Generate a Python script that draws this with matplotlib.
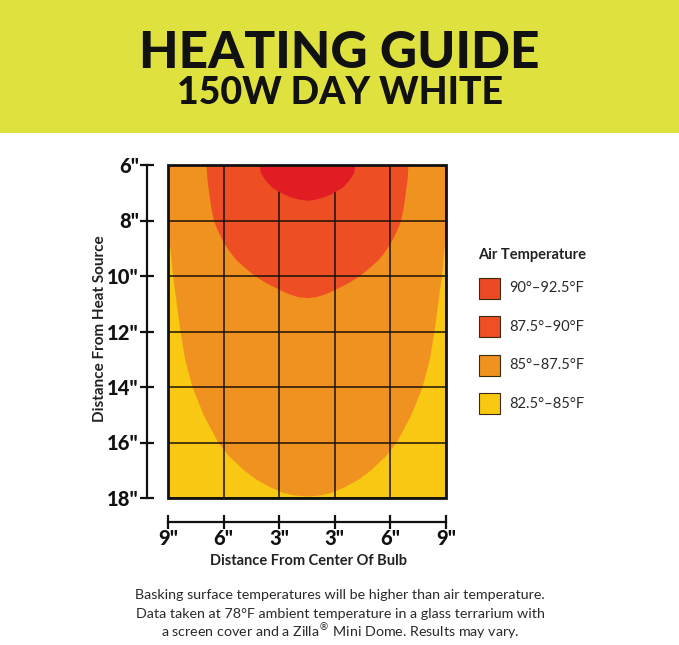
import matplotlib
matplotlib.use("Agg")
import matplotlib.pyplot as plt
from matplotlib.patches import Rectangle

# ---------------- data ----------------
title_line1 = "HEATING GUIDE"
title_line2 = "150W DAY WHITE"
y_ticks = [6, 8, 10, 12, 14, 16, 18]
y_tick_labels = ['6"', '8"', '10"', '12"', '14"', '16"', '18"']
x_ticks = [-7.5, -4.5, -1.5, 1.5, 4.5, 7.5]
x_tick_labels = ['9"', '6"', '3"', '3"', '6"', '9"']

# boundary of each zone: depth (in) and half-width from bulb centre
zone_hot_depth = [6, 6.3, 6.55, 6.8, 7.0, 7.15, 7.23, 7.27]
zone_hot_half = [2.6, 2.5, 2.25, 1.9, 1.4, 0.9, 0.45, 0]
zone_warm_depth = [6, 6.5, 7, 7.5, 8, 8.4, 8.8, 9.1, 9.4, 9.7, 10.0, 10.25, 10.5, 10.65, 10.75, 10.78]
zone_warm_half = [5.45, 5.4, 5.3, 5.2, 5.05, 4.8, 4.5, 4.2, 3.85, 3.35, 2.8, 2.2, 1.45, 0.95, 0.45, 0]
zone_mild_depth = [6, 7, 8, 8.4, 9, 10, 11, 12, 13, 14, 15, 16, 16.5, 17, 17.3, 17.6, 17.8, 17.89, 17.93]
zone_mild_half = [8.0, 7.8, 7.6, 7.5, 7.4, 7.25, 7.05, 6.85, 6.6, 6.2, 5.6, 4.8, 4.2, 3.4, 2.8, 2.0, 1.3, 0.7, 0]

legend_title = "Air Temperature"
legend_labels = ["90°–92.5°F", "87.5°–90°F", "85°–87.5°F", "82.5°–85°F"]
legend_colors = ["#ec4a25", "#ef4f24", "#f0921f", "#f9c812"]

footer_lines = [
    "Basking surface temperatures will be higher than air temperature.",
    "Data taken at 78°F ambient temperature in a glass terrarium with",
    "a screen cover and a Zilla$^{\u00ae}$ Mini Dome. Results may vary.",
]

# ---------------- figure ----------------
W, H = 679, 645
fig = plt.figure(figsize=(W / 100, H / 100), dpi=100)
fig.patch.set_facecolor("white")
FAM = ["Lato", "DejaVu Sans"]

def fx(px):
    return px / W

def fy(py):
    return 1 - py / H

# header band
fig.add_artist(Rectangle((0, fy(133)), 1, 133 / H, transform=fig.transFigure,
                         facecolor="#dfe23e", edgecolor="none", zorder=0))
fig.text(fx(339), fy(53), title_line1, ha="center", va="center",
         fontsize=37, fontweight="black", family=FAM, color="#111111")
fig.text(fx(340), fy(93), title_line2, ha="center", va="center",
         fontsize=27, fontweight="black", family=FAM, color="#111111")

# main axes
left, right, top, bottom = 168, 446, 165, 498
ax = fig.add_axes([fx(left), fy(bottom), fx(right) - fx(left), (bottom - top) / H])
ax.set_facecolor(legend_colors[3])
ax.set_xlim(-7.5, 7.5)
ax.set_ylim(18, 6)

neg = lambda a: [-v for v in a]
ax.fill_betweenx(zone_mild_depth, neg(zone_mild_half), zone_mild_half,
                 color=legend_colors[2], lw=0, zorder=1)
ax.fill_betweenx(zone_warm_depth, neg(zone_warm_half), zone_warm_half,
                 color="#ee4e24", lw=0, zorder=2)
ax.fill_betweenx(zone_hot_depth, neg(zone_hot_half), zone_hot_half,
                 color="#e21c23", lw=0, zorder=3)

ax.set_xticks(x_ticks)
ax.set_xticklabels(x_tick_labels)
ax.set_yticks(y_ticks)
ax.set_yticklabels(y_tick_labels)
ax.grid(True, color="#1a1208", lw=1.1, zorder=4)
ax.set_axisbelow(False)

for s in ["top", "right"]:
    ax.spines[s].set_visible(False)
ax.spines["left"].set_position(("outward", 15))
ax.spines["bottom"].set_position(("outward", 17))
for s in ["left", "bottom"]:
    ax.spines[s].set_linewidth(1.6)
    ax.spines[s].set_color("#111111")
ax.tick_params(axis="both", direction="inout", length=10, width=1.6, color="#111111",
               labelsize=14.5, labelcolor="#111111")
ax.tick_params(axis="y", pad=1)
ax.tick_params(axis="x", pad=0)
for lab in ax.get_xticklabels() + ax.get_yticklabels():
    lab.set_fontweight("black")
    lab.set_family(FAM)

ax.add_patch(Rectangle((0, 0), 1, 1, transform=ax.transAxes, fill=False,
                       edgecolor="#111111", lw=2, zorder=5, clip_on=False))

fig.text(fx(308), fy(561), "Distance From Center Of Bulb", ha="center", va="center",
         fontsize=10.5, fontweight="bold", family=FAM, color="#222222")
fig.text(fx(100), fy(329), "Distance From Heat Source", ha="center", va="center",
         rotation=90, fontsize=11, fontweight="bold", family=FAM, color="#222222")

# legend
fig.text(fx(478), fy(255), legend_title, ha="left", va="center", fontsize=10.5,
         fontweight="bold", family=FAM, color="#222222")
sw = 21
for i, (lab, col) in enumerate(zip(legend_labels, legend_colors)):
    cy = 288 + i * 38.5
    fig.add_artist(Rectangle((fx(479), fy(cy + sw / 2)), sw / W, sw / H,
                             transform=fig.transFigure, facecolor=col,
                             edgecolor="#3a2a10", lw=0.8))
    fig.text(fx(509), fy(cy), lab, ha="left", va="center", fontsize=10.5,
             fontweight="normal", family=FAM, color="#2a2a2a")

# footer
for i, line in enumerate(footer_lines):
    fig.text(fx(340), fy(595 + i * 18.5), line, ha="center", va="center", fontsize=10.3,
             fontweight="normal", family=FAM, color="#2a2a2a")

fig.savefig("out.png", dpi=100)
